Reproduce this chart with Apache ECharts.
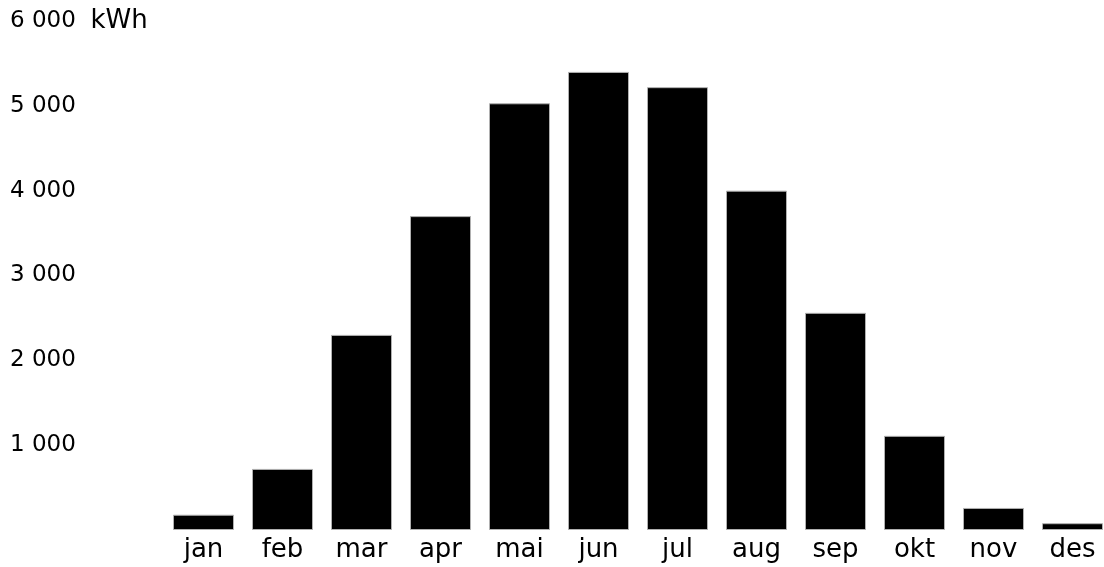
<!DOCTYPE html>
<html>
<head>
<meta charset="utf-8">
<script src="https://cdn.jsdelivr.net/npm/echarts@6/dist/echarts.min.js"></script>
<style>
	html, body { margin: 0; padding: 0; background: #fff; }
	#chart { width: 1104px; height: 567px; }
</style>
</head>
<body>
<div id="chart"></div>
<script>
const months = ["jan", "feb", "mar", "apr", "mai", "jun", "jul", "aug", "sep", "okt", "nov", "des"];
const production = [180, 720, 2300, 3700, 5030, 5400, 5220, 4000, 2560, 1110, 260, 80];
const unit = "kWh";

function fmt(v) {
	return String(v).replace(/\B(?=(\d{3})+(?!\d))/g, " ");
}

const chart = echarts.init(document.getElementById("chart"));

chart.setOption({
	animation: false,
	textStyle: { fontFamily: "DejaVu Sans" },
	grid: { left: 164, width: 948, top: 21, bottom: 37, outerBoundsMode: "none" },
	xAxis: {
		type: "category",
		data: months,
		axisLine: { show: false },
		axisTick: { show: false },
		axisLabel: { color: "#000", fontSize: 26, margin: 7, fontFamily: "DejaVu Sans" }
	},
	yAxis: {
		type: "value",
		min: 0,
		max: 6000,
		interval: 1000,
		splitLine: { show: false },
		axisLine: { show: false },
		axisTick: { show: false },
		axisLabel: {
			color: "#000",
			fontSize: 23,
			fontFamily: "DejaVu Sans",
			align: "left",
			margin: 154,
			formatter: v => {
				if (v === 0) return "";
				if (v === 6000) return fmt(v) + "  {u|" + unit + "}";
				return fmt(v);
			},
			rich: {
				u: { fontSize: 26, color: "#000", fontFamily: "DejaVu Sans" }
			}
		}
	},
	series: [{
		type: "bar",
		data: production,
		barWidth: 61,
		itemStyle: { color: "#000", borderColor: "#b0b0b0", borderWidth: 1 }
	}]
});
</script>
</body>
</html>
